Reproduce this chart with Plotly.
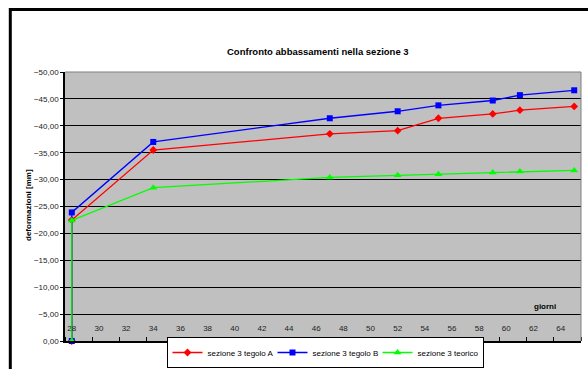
import plotly.graph_objects as go

# Measurement days and settlements (mm) for section 3
giorni = [28, 28, 34, 47, 52, 55, 59, 61, 65]
tegolo_a = [0.0, -22.5, -35.5, -38.5, -39.1, -41.4, -42.2, -42.9, -43.6]
tegolo_b = [0.0, -23.9, -37.0, -41.4, -42.7, -43.8, -44.7, -45.7, -46.6]
teorico = [0.0, -22.4, -28.5, -30.4, -30.8, -31.0, -31.3, -31.5, -31.7]

serie_nomi = ["sezione 3 tegolo A", "sezione 3 tegolo B", "sezione 3 teorico"]
x_ticks = list(range(28, 65, 2))
y_ticks = list(range(0, -51, -5))

FONT = "Liberation Sans, Arial, sans-serif"

fig = go.Figure()
styles = [
    ("#FF0000", "diamond", 6),
    ("#0000FF", "square", 6),
    ("#00FF00", "triangle-up", 7),
]
for nome, vals, (col, sym, size) in zip(serie_nomi, [tegolo_a, tegolo_b, teorico], styles):
    fig.add_trace(go.Scatter(
        x=giorni, y=vals, name=nome, mode="lines+markers",
        line=dict(color=col, width=1.3),
        marker=dict(color=col, symbol=sym, size=size, line=dict(width=0)),
        cliponaxis=False,
    ))

L, R, T, B = 65, 7, 72, 28
W, H = 588, 369
pw, ph = W - L - R, H - T - B

def px_x(p):
    return (p - L) / pw

def px_y(q):
    return (H - B - q) / ph

fig.update_layout(
    width=W, height=H,
    margin=dict(l=L, r=R, t=T, b=B, autoexpand=False),
    paper_bgcolor="white",
    plot_bgcolor="#C0C0C0",
    separators=",.",
    font=dict(family=FONT, size=8, color="black"),
    showlegend=True,
    legend=dict(
        orientation="h", x=px_x(325), xanchor="center",
        y=px_y(368), yanchor="bottom",
        bordercolor="black", borderwidth=1,
        font=dict(family=FONT, size=8, color="black"),
        itemwidth=30, tracegroupgap=0,
        entrywidth=60, entrywidthmode="pixels",
    ),
    xaxis=dict(
        range=[27.5, 65.5],
        tickmode="array", tickvals=x_ticks,
        ticks="", ticklabelstandoff=-21,
        showgrid=False, zeroline=False,
        showline=True, linecolor="black", linewidth=1.5,
        tickfont=dict(family=FONT, size=8, color="#222"),
        minor=dict(tick0=27.5, dtick=2, ticks="inside", ticklen=4,
                   tickcolor="black", showgrid=False),
    ),
    yaxis=dict(
        range=[0, -50],
        tickmode="array", tickvals=y_ticks, tickformat=".2f",
        ticks="outside", ticklen=3, tickcolor="black",
        showgrid=True, gridcolor="black", gridwidth=1,
        zeroline=False,
        showline=True, linecolor="black", linewidth=1.5,
        tickfont=dict(family=FONT, size=8, color="#222"),
    ),
    shapes=[
        # plot-area border (top and right)
        dict(type="line", xref="paper", yref="paper", x0=0, x1=1, y0=1, y1=1,
             line=dict(color="#808080", width=1)),
        dict(type="line", xref="paper", yref="paper", x0=1, x1=1, y0=0, y1=1,
             line=dict(color="#808080", width=1)),
        # chart frame
        dict(type="path", xref="paper", yref="paper",
             path=f"M {px_x(10.3)} {px_y(400)} L {px_x(10.3)} {px_y(9.5)} L {px_x(620)} {px_y(9.5)}",
             line=dict(color="black", width=3)),
    ],
    annotations=[
        dict(text="<b>Confronto abbassamenti nella sezione 3</b>",
             xref="paper", yref="paper", x=px_x(318), y=px_y(51),
             xanchor="center", yanchor="middle", showarrow=False,
             font=dict(family=FONT, size=9.5, color="black")),
        dict(text="<b>deformazioni [mm]</b>", textangle=-90,
             xref="paper", yref="paper", x=px_x(28), y=px_y(205),
             xanchor="center", yanchor="middle", showarrow=False,
             font=dict(family=FONT, size=8, color="black")),
        dict(text="<b>giorni</b>",
             xref="paper", yref="paper", x=px_x(545), y=px_y(306),
             xanchor="center", yanchor="middle", showarrow=False,
             font=dict(family=FONT, size=8, color="black")),
    ],
)

fig.write_html("out.html")
